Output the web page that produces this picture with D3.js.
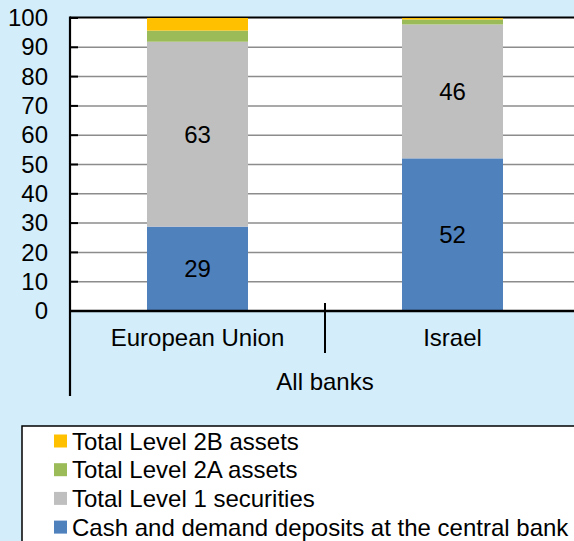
<!DOCTYPE html>
<html>
<head>
<meta charset="UTF-8">
<script src="https://d3js.org/d3.v7.min.js"></script>
<style>
  body { margin: 0; background: #d3eefa; }
  svg { display: block; font-family: "Liberation Sans", Arial, sans-serif; }
</style>
</head>
<body>
<svg></svg>
<script>
// data (percent of liquid assets)
var categories = ["European Union", "Israel"];
var groupLabel = "All banks";
var seriesNames = ["Cash and demand deposits at the central bank", "Total Level 1 securities", "Total Level 2A assets", "Total Level 2B assets"];
var cashValues = [28.8, 52.1];
var level1Values = [63.1, 45.7];
var level2AValues = [3.8, 1.7];
var level2BValues = [4.3, 0.5];
var yTicks = [0, 10, 20, 30, 40, 50, 60, 70, 80, 90, 100];
var colors = ["#4f81bd", "#bfbfbf", "#9bbb59", "#ffc000"];

var width = 574, height = 541;
var svg = d3.select("svg").attr("width", width).attr("height", height);

var plotLeft = 70, plotRight = 580, plotTop = 18, plotBottom = 311;
var fontSize = "24px";

// table for d3.stack
var rows = categories.map(function(c, i) {
  return { cat: c, s0: cashValues[i], s1: level1Values[i], s2: level2AValues[i], s3: level2BValues[i] };
});
var keys = ["s0", "s1", "s2", "s3"];
var stacked = d3.stack().keys(keys)(rows);

var x = d3.scaleBand().domain(categories).range([plotLeft, plotRight]);
var y = d3.scaleLinear().domain([0, 100]).range([plotBottom, plotTop]);
var barW = x.bandwidth() * 0.396;

// plot area
svg.append("rect")
  .attr("x", plotLeft).attr("y", plotTop)
  .attr("width", width - plotLeft).attr("height", plotBottom - plotTop)
  .attr("fill", "#fff");

// gridlines
svg.append("g").selectAll("line")
  .data(yTicks.filter(function(d) { return d > 0 && d < 100; }))
  .enter().append("line")
  .attr("x1", plotLeft).attr("x2", width)
  .attr("y1", function(d) { return y(d); }).attr("y2", function(d) { return y(d); })
  .attr("stroke", "#8c8c8c").attr("stroke-width", 1.5);

// top frame line, behind the bars
svg.append("line").attr("x1", plotLeft).attr("x2", width).attr("y1", plotTop - 0.5).attr("y2", plotTop - 0.5)
  .attr("stroke", "#000").attr("stroke-width", 2.2);

// bars
var layer = svg.append("g").selectAll("g")
  .data(stacked)
  .enter().append("g")
  .attr("fill", function(d, i) { return colors[i]; });

layer.selectAll("rect")
  .data(function(d) { return d; })
  .enter().append("rect")
  .attr("x", function(d) { return x(d.data.cat) + (x.bandwidth() - barW) / 2; })
  .attr("y", function(d) { return y(d[1]); })
  .attr("width", barW)
  .attr("height", function(d) { return y(d[0]) - y(d[1]); });

// value labels for the two big series
svg.append("g").selectAll("g")
  .data(stacked.slice(0, 2))
  .enter().append("g")
  .selectAll("text")
  .data(function(d) { return d; })
  .enter().append("text")
  .attr("x", function(d) { return x(d.data.cat) + x.bandwidth() / 2; })
  .attr("y", function(d) { return (y(d[0]) + y(d[1])) / 2; })
  .attr("dy", "0.36em")
  .attr("text-anchor", "middle")
  .style("font-size", fontSize)
  .text(function(d) { return d3.format(".0f")(d[1] - d[0]); });

// y axis
var yAxis = d3.axisLeft(y).tickValues(yTicks).tickSize(0).tickPadding(22);
var ya = svg.append("g").attr("transform", "translate(" + plotLeft + ",0)").call(yAxis);
ya.select(".domain").remove();
ya.selectAll("text").style("font-size", fontSize).attr("fill", "#000").attr("font-family", null);
// inside tick marks
svg.append("g").selectAll("line")
  .data(yTicks)
  .enter().append("line")
  .attr("x1", plotLeft).attr("x2", plotLeft + 8)
  .attr("y1", function(d) { return y(d); }).attr("y2", function(d) { return y(d); })
  .attr("stroke", "#000").attr("stroke-width", 2);

// frame lines
svg.append("line").attr("x1", plotLeft).attr("x2", width).attr("y1", plotBottom).attr("y2", plotBottom)
  .attr("stroke", "#000").attr("stroke-width", 2.5);
svg.append("line").attr("x1", plotLeft).attr("x2", plotLeft).attr("y1", plotTop - 1.6).attr("y2", 396)
  .attr("stroke", "#000").attr("stroke-width", 2.2);

// category separator
svg.append("g").selectAll("line")
  .data(categories.slice(1))
  .enter().append("line")
  .attr("x1", function(d) { return x(d); }).attr("x2", function(d) { return x(d); })
  .attr("y1", plotBottom - 8).attr("y2", 353)
  .attr("stroke", "#000").attr("stroke-width", 2);

// category labels
svg.append("g").selectAll("text")
  .data(categories)
  .enter().append("text")
  .attr("x", function(d) { return x(d) + x.bandwidth() / 2; })
  .attr("y", 346)
  .attr("text-anchor", "middle")
  .style("font-size", fontSize)
  .text(function(d) { return d; });

svg.append("text")
  .attr("x", (plotLeft + plotRight) / 2).attr("y", 390)
  .attr("text-anchor", "middle")
  .style("font-size", fontSize)
  .text(groupLabel);

// legend
var legX = 22, legY = 426;
svg.append("rect")
  .attr("x", legX).attr("y", legY)
  .attr("width", width).attr("height", 200)
  .attr("fill", "#fff").attr("stroke", "#000").attr("stroke-width", 1.5);

var legendOrder = [3, 2, 1, 0];
var item = svg.append("g").selectAll("g")
  .data(legendOrder)
  .enter().append("g")
  .attr("transform", function(d, i) { return "translate(0," + (441 + i * 28.7) + ")"; });

item.append("rect")
  .attr("x", 54).attr("y", -6.5)
  .attr("width", 13).attr("height", 13)
  .attr("fill", function(d) { return colors[d]; });

item.append("text")
  .attr("x", 72).attr("dy", "0.36em")
  .style("font-size", fontSize)
  .text(function(d) { return seriesNames[d]; });
</script>
</body>
</html>
